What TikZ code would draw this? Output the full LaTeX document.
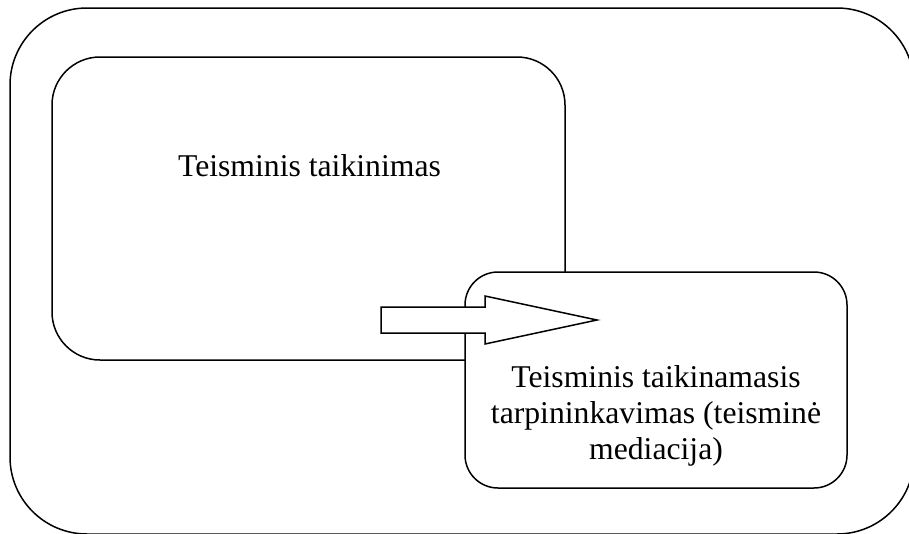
\documentclass[tikz,border=0pt]{standalone}
\usepackage{fontspec}
\setmainfont{Liberation Serif}
\begin{document}
\begin{tikzpicture}[x=1pt,y=-1pt,
  line width=1.5pt,
  boxstyle/.style={draw=black, fill=white, inner sep=0pt, outer sep=0pt},
  labelstyle/.style={inner sep=0pt, font=\fontsize{31.7}{36}\selectfont, align=center}]
\useasboundingbox (0,0) rectangle (909,533);
\clip (0,0) rectangle (909,533);
% outer frame
\draw[rounded corners=77pt] (10,8) rectangle (914,534);
% box 1
\node[boxstyle, rounded corners=48pt, minimum width=513pt, minimum height=303pt] (outerbox) at (308.5,208.5) {};
% box 2
\node[boxstyle, rounded corners=33pt, minimum width=382pt, minimum height=216pt] (innerbox) at (656,380) {};
% block arrow
\coordinate (a1) at (381,307);
\coordinate (a2) at (485,307);
\coordinate (a3) at (485,296);
\coordinate (tip) at (597,320);
\coordinate (a5) at (485,344);
\coordinate (a6) at (485,333);
\coordinate (a7) at (381,333);
\draw[fill=white, line join=miter] (a1) -- (a2) -- (a3) -- (tip) -- (a5) -- (a6) -- (a7) -- cycle;
% texts
\node[labelstyle, anchor=base] (t1) at (309.5,176) {Teisminis taikinimas};
\node[labelstyle, anchor=north] (t2) at (656,365) {Teisminis taikinamasis\\tarpininkavimas (teisminė\\mediacija)};
\end{tikzpicture}
\end{document}
